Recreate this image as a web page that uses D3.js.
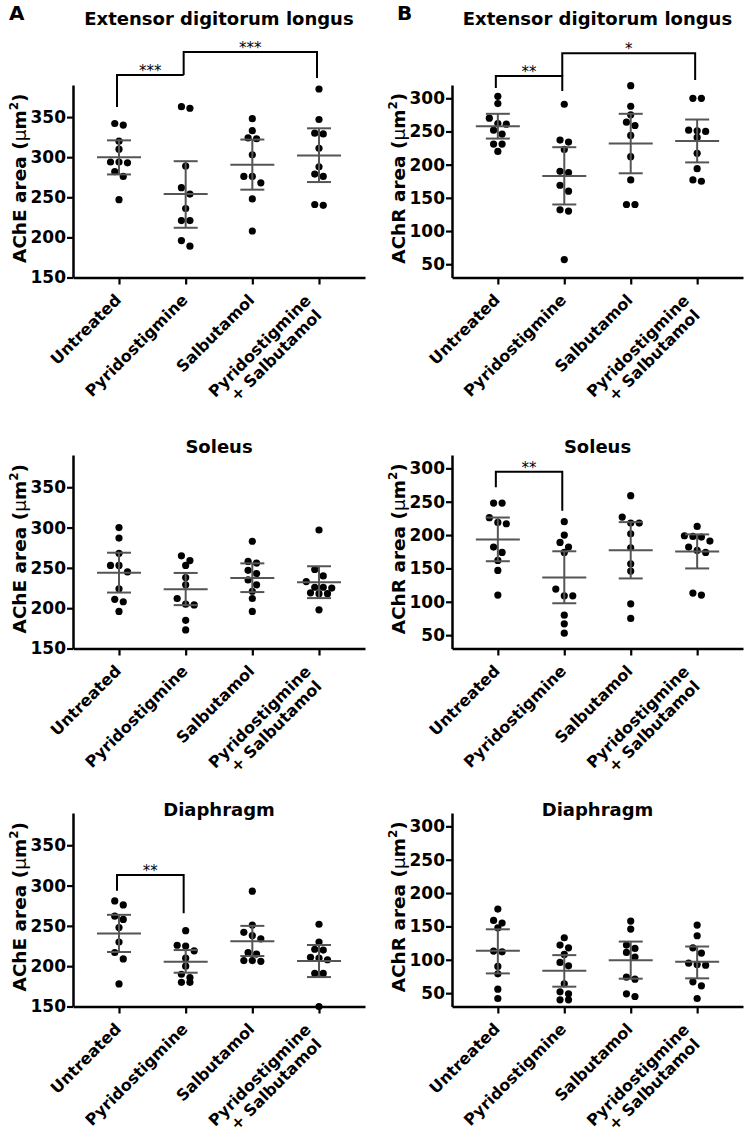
<!DOCTYPE html>
<html><head><meta charset="utf-8">
<script src="https://cdn.jsdelivr.net/npm/d3@7"></script>
<style>body{margin:0;background:#fff} svg{display:block} text{font-family:"DejaVu Sans",sans-serif;fill:#000}</style>
</head><body><svg id="c" width="747" height="1136"></svg>
<script>
// ---------- data ----------
const categories = ["Untreated", "Pyridostigmine", "Salbutamol", "Pyridostigmine + Salbutamol"];
const categoryLines = [["Untreated"], ["Pyridostigmine"], ["Salbutamol"], ["Pyridostigmine", "+ Salbutamol"]];
const titles = ["Extensor digitorum longus", "Extensor digitorum longus", "Soleus", "Soleus", "Diaphragm", "Diaphragm"];
const panelLetters = ["A", "B"];
const markers = ["AChE", "AChR"];
const ticksAChE = [150, 200, 250, 300, 350];
const ticksAChR = [50, 100, 150, 200, 250, 300];
const domainAChE = [150, 390];
const domainAChR = [30, 320];

// individual measurements (µm²), per group
const edlAChE = [
  [342, 340, 320, 310, 294, 294, 293, 282, 276, 247],
  [363, 361, 289, 262, 254, 236, 221, 221, 196, 189],
  [348, 333, 324, 323, 303, 276, 276, 268, 248, 208],
  [385, 347, 330, 329, 311, 288, 279, 276, 241, 240]
];
const edlAChR = [
  [303, 292, 270, 262, 261, 252, 246, 231, 231, 220],
  [291, 237, 234, 223, 190, 188, 169, 160, 132, 130, 57],
  [319, 288, 275, 264, 259, 244, 212, 177, 140, 140],
  [300, 300, 252, 251, 250, 241, 217, 194, 177, 175]
];
const solAChE = [
  [300, 287, 268, 253, 253, 245, 224, 211, 208, 196],
  [265, 259, 253, 238, 229, 212, 205, 204, 185, 173],
  [283, 258, 256, 247, 243, 235, 229, 221, 212, 196],
  [297, 248, 240, 233, 226, 226, 225, 219, 218, 218, 198]
];
const solAChR = [
  [248, 248, 226, 219, 217, 182, 174, 162, 147, 110],
  [220, 200, 189, 182, 174, 119, 109, 109, 80, 67, 53],
  [259, 227, 218, 218, 202, 181, 157, 146, 97, 75],
  [213, 199, 198, 197, 191, 182, 177, 174, 113, 110]
];
const diaAChE = [
  [281, 276, 262, 258, 248, 230, 217, 209, 178],
  [244, 226, 225, 219, 210, 200, 190, 186, 180, 180],
  [293, 251, 242, 238, 234, 217, 215, 207, 207, 206],
  [252, 230, 221, 220, 211, 210, 208, 191, 191, 150]
];
const diaAChR = [
  [176, 159, 155, 148, 113, 112, 90, 79, 56, 42],
  [133, 122, 118, 108, 96, 91, 64, 52, 49, 40, 40],
  [158, 146, 122, 117, 111, 104, 74, 71, 49, 45],
  [152, 136, 118, 110, 95, 93, 92, 67, 61, 42]
];

// mean and 95% CI per group
const edlAChE_mean = [300, 254, 290.5, 302];
const edlAChE_lo = [278.5, 212, 259.5, 269];
const edlAChE_hi = [321, 295, 322, 336];
const edlAChR_mean = [257.7, 183, 231.8, 235.8];
const edlAChR_lo = [239.3, 140, 187, 203.4];
const edlAChR_hi = [276.6, 226.3, 276.6, 268];
const solAChE_mean = [244, 223.5, 237.5, 232.2];
const solAChE_lo = [219.4, 203.8, 220, 212.5];
const solAChE_hi = [268.8, 243.7, 255.6, 252];
const solAChR_mean = [193.5, 136.5, 177.2, 175.2];
const solAChR_lo = [160.8, 97.8, 135, 150];
const solAChR_hi = [226.3, 175.7, 219.4, 201];
const diaAChE_mean = [240.5, 205.6, 230.9, 206.4];
const diaAChE_lo = [217.6, 191.9, 212.6, 186.5];
const diaAChE_hi = [263.7, 220, 250, 226.3];
const diaAChR_mean = [113.4, 83.6, 99.5, 97];
const diaAChR_lo = [79.6, 59.7, 71.7, 72.2];
const diaAChR_hi = [145.7, 107, 127.3, 119.9];

// significance comparisons (values in axis units)
const comparisons = [
  {panel: 0, from: 0, to: 1, top: 402.5, leftEnd: 362.6, rightEnd: 402.5, label: "***"},
  {panel: 0, from: 1, to: 3, top: 431.2, leftEnd: 402.5, rightEnd: 398.8, label: "***"},
  {panel: 1, from: 0, to: 1, top: 333.5, leftEnd: 315.5, rightEnd: 311, label: "**"},
  {panel: 1, from: 1, to: 3, top: 368, leftEnd: 333.5, rightEnd: 327.5, label: "*"},
  {panel: 3, from: 0, to: 1, top: 295, leftEnd: 271.6, rightEnd: 236.5, label: "**"},
  {panel: 4, from: 0, to: 1, top: 313.1, leftEnd: 293.6, rightEnd: 265.6, label: "**"}
];

const panels = [
  {vals: edlAChE, mean: edlAChE_mean, lo: edlAChE_lo, hi: edlAChE_hi},
  {vals: edlAChR, mean: edlAChR_mean, lo: edlAChR_lo, hi: edlAChR_hi},
  {vals: solAChE, mean: solAChE_mean, lo: solAChE_lo, hi: solAChE_hi},
  {vals: solAChR, mean: solAChR_mean, lo: solAChR_lo, hi: solAChR_hi},
  {vals: diaAChE, mean: diaAChE_mean, lo: diaAChE_lo, hi: diaAChE_hi},
  {vals: diaAChR, mean: diaAChR_mean, lo: diaAChR_lo, hi: diaAChR_hi}
];

// ---------- layout ----------
const cols = [{x0: 73, x1: 365}, {x0: 452, x1: 743}];
const rows = [{top: 85, bottom: 277.5, titleY: 25}, {top: 455, bottom: 648.5, titleY: 453}, {top: 813, bottom: 1006.5, titleY: 816}];
const R = 3.6, GAP = 8.5;
const barColor = "#555";

const svg = d3.select("#c");

panelLetters.forEach((L, i) => {
  svg.append("text").attr("x", i === 0 ? 9 : 397).attr("y", 20)
    .attr("font-size", 20).attr("font-weight", "bold").attr("fill", "#000").text(L);
});

function swarm(vals, y, cx) {
  const sorted = vals.slice().sort((a, b) => b - a);
  const rs = [];
  sorted.forEach(v => {
    const py = y(v);
    const r = rs[rs.length - 1];
    if (r && Math.abs(py - r[0].py) < 7) r.push({v, py});
    else rs.push([{v, py}]);
  });
  const out = [];
  rs.forEach(r => {
    const k = r.length;
    r.forEach((p, i) => out.push({x: cx + (i - (k - 1) / 2) * GAP, y: p.py}));
  });
  return out;
}

panels.forEach((p, idx) => {
  const col = cols[idx % 2], row = rows[Math.floor(idx / 2)];
  const isE = idx % 2 === 0;
  const x = d3.scalePoint().domain(categories).range([col.x0, col.x1]).padding(0.69);
  const y = d3.scaleLinear().domain(isE ? domainAChE : domainAChR).range([row.bottom, row.top]);
  const g = svg.append("g");

  // title
  g.append("text").attr("x", (col.x0 + col.x1) / 2).attr("y", row.titleY)
    .attr("text-anchor", "middle").attr("font-size", 18).attr("font-weight", "bold").attr("fill", "#000")
    .text(titles[idx]);

  // y axis
  const ya = g.append("g").attr("transform", `translate(${col.x0},0)`)
    .call(d3.axisLeft(y).tickValues(isE ? ticksAChE : ticksAChR).tickSize(6).tickPadding(1).tickSizeOuter(0));
  ya.select(".domain").attr("stroke-width", 2.5).attr("stroke", "#000");
  ya.selectAll(".tick line").attr("stroke-width", 2.2).attr("stroke", "#000");
  ya.selectAll(".tick text").attr("font-size", 17).attr("font-weight", "bold")
    .attr("font-family", "DejaVu Sans").attr("fill", "#000");

  // x axis
  const xa = g.append("g").attr("transform", `translate(0,${row.bottom})`)
    .call(d3.axisBottom(x).tickSize(7).tickSizeOuter(0).tickFormat(""));
  xa.select(".domain").attr("stroke-width", 2.5).attr("stroke", "#000");
  xa.selectAll(".tick line").attr("stroke-width", 2.2).attr("stroke", "#000");

  // category labels
  categories.forEach((c, ci) => {
    const lines = categoryLines[ci];
    const cx = x(c);
    const two = lines.length > 1;
    const t = g.append("text")
      .attr("transform", `translate(${cx + (two ? -7 : 3)},${row.bottom + (two ? 24 : 23.5)}) rotate(-45)`)
      .attr("text-anchor", "end").attr("font-size", 16).attr("font-weight", "bold").attr("fill", "#000");
    lines.forEach((ln, li) => {
      t.append("tspan").attr("x", li === 0 ? 0 : -3).attr("dy", li === 0 ? 0 : 18).text(ln);
    });
  });

  // y label
  const yl = g.append("text")
    .attr("transform", `translate(${col.x0 - 47},${(row.top + row.bottom) / 2 - 3}) rotate(-90)`)
    .attr("text-anchor", "middle").attr("font-size", 18.5).attr("font-weight", "bold").attr("fill", "#000");
  yl.append("tspan").text(markers[idx % 2] + " area (");
  yl.append("tspan").attr("font-weight", "normal").text("μ");
  yl.append("tspan").text("m");
  yl.append("tspan").attr("font-size", 12).attr("dy", -8).text("2");
  yl.append("tspan").attr("dy", 8).text(")");

  // points
  p.vals.forEach((vals, gi) => {
    const cx = x(categories[gi]);
    g.append("g").selectAll("circle").data(swarm(vals, y, cx)).join("circle")
      .attr("cx", d => d.x).attr("cy", d => d.y).attr("r", R).attr("fill", "#000");
  });

  // mean + CI
  categories.forEach((c, gi) => {
    const cx = x(c);
    const eb = g.append("g").attr("stroke", barColor).attr("stroke-width", 2).attr("fill", "none");
    eb.append("line").attr("x1", cx).attr("x2", cx).attr("y1", y(p.lo[gi])).attr("y2", y(p.hi[gi]));
    eb.append("line").attr("x1", cx - 12).attr("x2", cx + 12).attr("y1", y(p.lo[gi])).attr("y2", y(p.lo[gi]));
    eb.append("line").attr("x1", cx - 12).attr("x2", cx + 12).attr("y1", y(p.hi[gi])).attr("y2", y(p.hi[gi]));
    eb.append("line").attr("x1", cx - 22).attr("x2", cx + 22).attr("y1", y(p.mean[gi])).attr("y2", y(p.mean[gi]));
  });

  // comparisons
  comparisons.filter(b => b.panel === idx).forEach(b => {
    const xa0 = x(categories[b.from]) - 2, xa1 = x(categories[b.to]) - 2;
    g.append("path")
      .attr("d", d3.line()([[xa0, y(b.leftEnd)], [xa0, y(b.top)], [xa1, y(b.top)], [xa1, y(b.rightEnd)]]))
      .attr("fill", "none").attr("stroke", "#000").attr("stroke-width", 2);
    g.append("text").attr("x", (xa0 + xa1) / 2).attr("y", y(b.top) + 1)
      .attr("text-anchor", "middle").attr("font-size", 15).attr("fill", "#000").text(b.label);
  });
});
</script></body></html>
